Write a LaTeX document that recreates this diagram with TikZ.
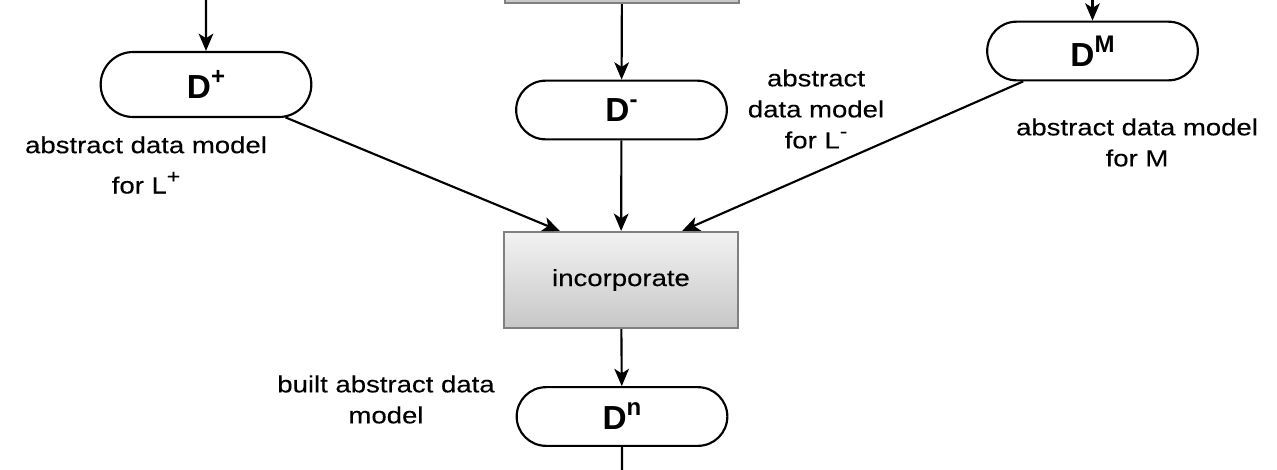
\documentclass[tikz,border=0pt]{standalone}
\usepackage{fontspec}
\setmainfont{Liberation Sans}
\newfontfamily\lblfont[FakeStretch=1.18,FakeBold=0.25]{Liberation Sans}
\usepackage{tikz}
\usetikzlibrary{positioning,calc,arrows.meta,shapes.misc}
\newcommand{\upper}[1]{\raisebox{0.42em}{\fontsize{18}{18}\selectfont #1}}
\newcommand{\lupper}[1]{\raisebox{0.45em}{\fontsize{14.5}{14.5}\selectfont #1}}
\tikzset{
  model/.style    = {rounded rectangle,draw,line width=1.6pt,fill=white,
                     minimum width=158pt,minimum height=44pt,inner sep=0pt,
                     font=\fontsize{25}{30}\selectfont\bfseries},
  procbox/.style  = {rectangle,draw=black!50,line width=1.6pt,
                     top color=black!5,bottom color=black!22,
                     minimum width=175pt,minimum height=72pt,inner sep=0pt,
                     font=\lblfont\fontsize{17.5}{20}\selectfont},
  note/.style     = {inner sep=0pt,align=center,
                     font=\lblfont\fontsize{17.5}{23.25}\selectfont},
  flow/.style     = {line width=1.6pt},
  >={Stealth[length=13pt,width=11pt,inset=3.5pt]}
}

\begin{document}
\begin{tikzpicture}[x=0.75pt,y=-0.75pt]
    \useasboundingbox (0,0) rectangle (1277,469);

    % boxes
    \node[procbox] (prev) at (622,-45) {};
    \node[model] (dplus) at (206,84.5) [minimum height=48.75pt] {D\upper{+}};
    \node[model] (dminus) at (621.5,110) {D\upper{-}};
    \node[model] (dm) at (1092.5,51) {D\upper{M}};
    \node[procbox] (inc) at (621,280) {incorporate};
    \node[model] (dn) at (622,416.5) {D\upper{n}};

    % loose ends
    \coordinate (inplus) at (206,-5);
    \coordinate (inm) at (1092.5,-5);
    \coordinate (out) at (622,475);

    % notes
    \node[note] (lplus) at (146,165) {abstract data model\\[7pt]for L\lupper{+}};
    \node[note] (lminus) at (816,109) {abstract\\data model\\for L\lupper{-}};
    \node[note] (lm) at (1137,142.5) {abstract data model\\for M};
    \node[note] (ln) at (386,399.5) {built abstract data\\model};

    % connectors
    \draw[flow,->] (inplus) -- (dplus);
    \draw[flow,->] (inm) -- (dm);
    \draw[flow,->] (prev) -- (dminus);
    \draw[flow,->] (dplus) -- ($(inc.north west)!0.24!(inc.north east)$);
    \draw[flow,->] (dminus) -- (inc);
    \draw[flow,->] (dm) -- ($(inc.north west)!0.76!(inc.north east)$);
    \draw[flow,->] (inc) -- (dn);
    \draw[flow] (dn) -- (out);
\end{tikzpicture}
\end{document}
